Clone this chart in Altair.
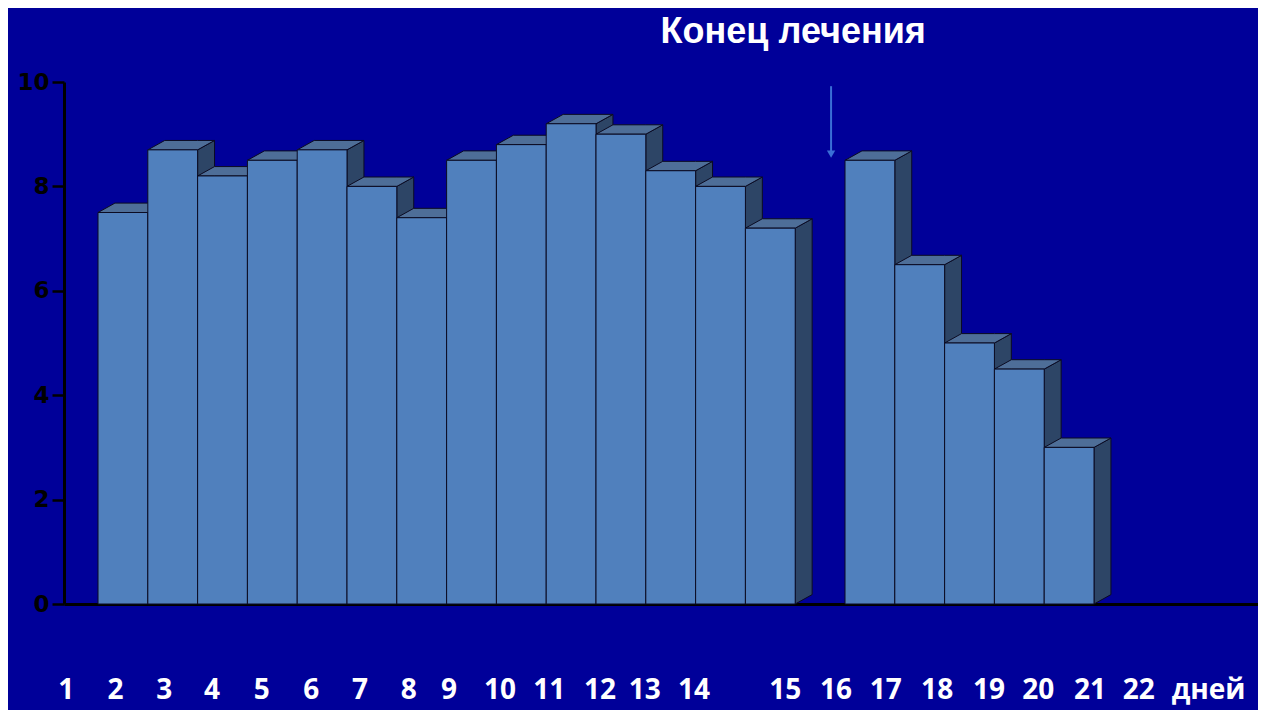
import altair as alt
import pandas as pd

# ---- data ----
values = [7.5, 8.7, 8.2, 8.5, 8.7, 8.0, 7.4, 8.5, 8.8, 9.2, 9.0, 8.3, 8.0, 7.2,
          8.5, 6.5, 5.0, 4.5, 3.0]
slots = [0, 1, 2, 3, 4, 5, 6, 7, 8, 9, 10, 11, 12, 13,
         15, 16, 17, 18, 19]          # slot 14 is the empty gap
day_labels = ["1", "2", "3", "4", "5", "6", "7", "8", "9", "10", "11", "12",
              "13", "14", "15", "16", "17", "18", "19", "20", "21", "22", "дней"]
day_label_pos = [-0.64, 0.35, 1.33, 2.29, 3.29, 4.28, 5.26, 6.24, 7.05, 8.07,
                 9.06, 10.08, 10.98, 11.97, 13.8, 14.82, 15.82, 16.85, 17.89,
                 18.88, 19.92, 20.9, 22.3]
y_ticks = [0, 2, 4, 6, 8, 10]
title_text = "Конец лечения"
title_pos = (13.96, 10.96)
day_label_y = -1.67
arrow_x = 14.72
arrow_top, arrow_tip = 9.92, 8.51

# ---- styling ----
BG = "#000099"
FRONT = "#5080BD"
TOP = "#4E6E98"
SIDE = "#2D4566"
EDGE = "#0B0B22"
ARROW = "#3A6ED6"
DX = 0.34   # depth offset, x units
DY = 0.18   # depth offset, y units

X_DOMAIN = [-0.683, 23.293]
Y_DOMAIN = [0, 10]

front_rows, top_rows, side_rows = [], [], []
for i, (s, v) in enumerate(zip(slots, values)):
    xl, xr = s, s + 1
    front_rows.append({"bar": i, "xl": xl, "xr": xr, "v": v})
    top_rows += [
        {"bar": i, "x": xl, "y": v, "y2": v},
        {"bar": i, "x": xl + DX, "y": v + DY, "y2": v},
        {"bar": i, "x": xr, "y": v + DY, "y2": v},
        {"bar": i, "x": xr + DX, "y": v + DY, "y2": v + DY},
    ]
    side_rows += [
        {"bar": i, "x": xr, "y": v, "y2": 0},
        {"bar": i, "x": xr + DX, "y": v + DY, "y2": DY},
    ]

front_df = pd.DataFrame(front_rows)
top_df = pd.DataFrame(top_rows)
side_df = pd.DataFrame(side_rows)

xs = alt.Scale(domain=X_DOMAIN, nice=False, zero=False)
ys = alt.Scale(domain=Y_DOMAIN, nice=False)

x_axis = alt.Axis(title=None, labels=False, ticks=False, grid=False,
                  domainColor="black", domainWidth=3)
y_axis = alt.Axis(title=None, values=y_ticks, grid=False, domainColor="black",
                  domainWidth=3, tickColor="black", tickWidth=2.5, tickSize=12,
                  labelColor="black", labelFont="DejaVu Sans", labelFontSize=23,
                  labelFontWeight="bold", labelPadding=3)

sides = alt.Chart(side_df).mark_area(fill=SIDE, stroke=EDGE, strokeWidth=1).encode(
    x=alt.X("x:Q", scale=xs, axis=x_axis),
    y=alt.Y("y:Q", scale=ys, axis=y_axis),
    y2="y2:Q",
    detail="bar:N",
)
tops = alt.Chart(top_df).mark_area(fill=TOP, stroke=EDGE, strokeWidth=1).encode(
    x=alt.X("x:Q", scale=xs),
    y=alt.Y("y:Q", scale=ys),
    y2="y2:Q",
    detail="bar:N",
)
fronts = alt.Chart(front_df).mark_rect(fill=FRONT, stroke=EDGE, strokeWidth=1).encode(
    x=alt.X("xl:Q", scale=xs),
    x2="xr:Q",
    y=alt.Y("v:Q", scale=ys),
    y2=alt.datum(0),
)

arrow_df = pd.DataFrame({"x": [arrow_x], "y": [arrow_top], "y2": [arrow_tip + 0.15]})
arrow_line = alt.Chart(arrow_df).mark_rule(color=ARROW, strokeWidth=2).encode(
    x=alt.X("x:Q", scale=xs), y=alt.Y("y:Q", scale=ys), y2="y2:Q")
head_df = pd.DataFrame({"x": [arrow_x], "y": [arrow_tip + 0.11]})
arrow_head = alt.Chart(head_df).mark_point(shape="triangle-down", filled=True,
                                           color=ARROW, size=70, opacity=1).encode(
    x=alt.X("x:Q", scale=xs), y=alt.Y("y:Q", scale=ys))

lab_df = pd.DataFrame({"x": day_label_pos, "t": day_labels,
                       "y": [day_label_y] * len(day_labels)})
day_text = alt.Chart(lab_df).mark_text(color="white", font="Open Sans", fontWeight="bold",
                                       fontSize=28, baseline="middle", align="center").encode(
    x=alt.X("x:Q", scale=xs), y=alt.Y("y:Q", scale=ys), text="t:N")

title_df = pd.DataFrame({"x": [title_pos[0]], "y": [title_pos[1]], "t": [title_text]})
title_mark = alt.Chart(title_df).mark_text(color="white", font="Liberation Sans",
                                           fontWeight="bold", fontSize=36,
                                           baseline="middle", align="center").encode(
    x=alt.X("x:Q", scale=xs), y=alt.Y("y:Q", scale=ys), text="t:N")

chart = alt.layer(sides, tops, fronts, arrow_line, arrow_head, day_text, title_mark).properties(
    width=1194, height=522,
    padding={"left": 56, "top": 74, "right": 0, "bottom": 106},
    autosize="none",
    background=BG,
).configure_view(stroke=None)

chart.save("out.html", embed_options={"renderer": "svg", "actions": False})
